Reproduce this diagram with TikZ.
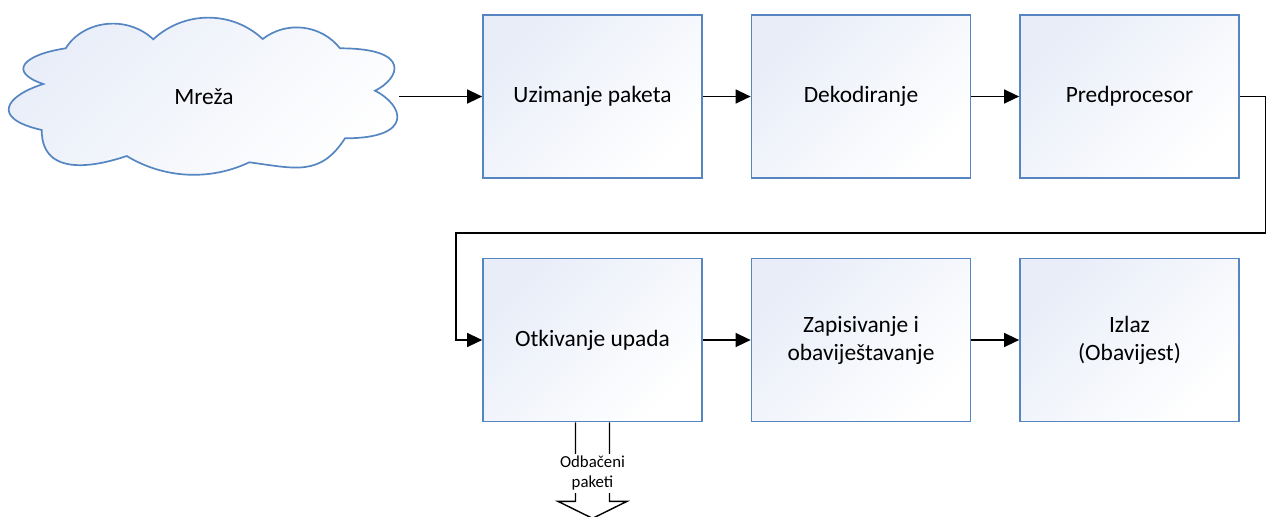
\documentclass[tikz,border=0pt]{standalone}
\usepackage{fontspec}
\setmainfont{Carlito}
\usetikzlibrary{arrows.meta,positioning}

\definecolor{boxblue}{RGB}{86,134,194}
\definecolor{boxtint}{RGB}{232,237,248}

\begin{document}
\begin{tikzpicture}[%
    >={Triangle[length=7.5pt,width=7pt]},
    node distance=121.75pt and 134.25pt,
    on grid,
    font=\fontsize{11.7pt}{14pt}\selectfont,
    tinted/.style={draw=boxblue, line width=0.85pt,
      top color=boxtint, bottom color=white, shading angle=45},
    block/.style={tinted, minimum width=109.5pt, minimum height=81.5pt,
      align=center},
    flow/.style={->, line width=0.7pt},
    thin line/.style={line width=0.7pt}
  ]
    \useasboundingbox (0,0) rectangle (633pt,-258pt);

    \node[block] (take) at (296.25pt,-48.25pt) {Uzimanje paketa};
    \node[block] (decode) [right=of take] {Dekodiranje};
    \node[block] (prep) [right=of decode] {Predprocesor};
    \node[block] (detect) [below=of take] {Otkivanje upada};
    \node[block] (log) [right=of detect] {Zapisivanje i\\obaviještavanje};
    \node[block] (out) [right=of log] {Izlaz\\(Obavijest)};

    % cloud, in pixel units from the top left corner
    \begin{scope}[x=0.5pt, y=-0.5pt]
      \draw[tinted] (65.7,48.3)
        .. controls (83.1,20.4) and (126.6,14.4) .. (153.3,39.3)
        .. controls (184.2,10.6) and (231.9,10.3) .. (262.7,39)
        .. controls (286.7,20.4) and (321.2,24.6) .. (340,48.3)
        .. controls (412.8,48.3) and (399.6,78.7) .. (375,90.7)
        .. controls (404,105.4) and (414.7,138.3) .. (345,138.3)
        .. controls (320.2,176.9) and (295,168.3) .. (249.3,162.3)
        .. controls (209.8,181) and (164,178.6) .. (126.7,156)
        .. controls (102.2,164.3) and (41.7,180.4) .. (41.7,130)
        .. controls (-10.3,118.2) and (6,95.8) .. (43.3,84)
        .. controls (7.2,71.8) and (23.2,54.7) .. cycle;
      \node (net) at (204,97) {Mreža};
      \coordinate (net edge) at (399,96.5);
    \end{scope}

    \path[flow] (net edge) edge (take)
                (take)     edge (decode)
                (decode)   edge (prep)
                (detect)   edge (log)
                (log)      edge (out);

    % return path to the second row
    \draw[flow] (prep.east) -- ++(13pt,0) -- ++(0,-68.25pt)
                -| ([xshift=-13pt]detect.west) -- (detect.west);

    % dropped packets
    \draw[thin line, fill=white, shift={(detect.south)}]
      (-8.5pt,0) -- (-8.5pt,-39.5pt) -- (-17.25pt,-39.5pt) -- (0,-48pt)
      -- (17.25pt,-39.5pt) -- (8.5pt,-39.5pt) -- (8.5pt,0);
    \node[fill=white, inner sep=1pt, align=center,
          font=\fontsize{8.4pt}{10pt}\selectfont]
          (drop) at ([yshift=-25.5pt]detect.south) {Odbačeni\\paketi};
\end{tikzpicture}
\end{document}
